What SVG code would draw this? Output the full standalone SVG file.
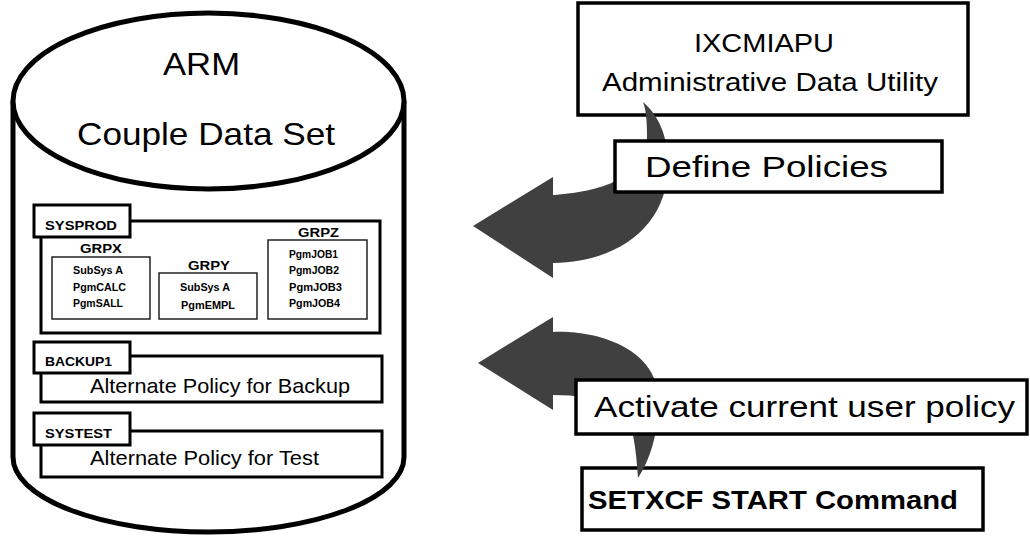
<svg xmlns="http://www.w3.org/2000/svg" width="1030" height="536" viewBox="0 0 1030 536">
<style>
text{font-family:"Liberation Sans",Arial,sans-serif;fill:#000}
.b{font-weight:bold}
.cyl{fill:#fff;stroke:#000;stroke-width:5}
.box{fill:#fff;stroke:#000;stroke-width:3.5}
.pol{fill:#fff;stroke:#000;stroke-width:3}
.grp{fill:#fff;stroke:#222;stroke-width:1.5}
.arr{fill:#404040}
</style>
<rect width="1030" height="536" fill="#fff"/>
<g id="arm-cds">
<path class="cyl" d="M13,101 L13,457 A195.5,75 0 0 0 404,457 L404,101"/>
<ellipse class="cyl" cx="208.5" cy="101" rx="195.5" ry="88"/>
<text x="163" y="75" font-size="32" textLength="77" lengthAdjust="spacingAndGlyphs">ARM</text>
<text x="77" y="145" font-size="32" textLength="258" lengthAdjust="spacingAndGlyphs">Couple Data Set</text>
</g>
<g id="sysprod">
<rect class="pol" x="41" y="221" width="339" height="112"/>
<rect class="pol" x="34" y="205" width="96" height="32"/>
<text class="b" x="45" y="230" font-size="13" textLength="72" lengthAdjust="spacingAndGlyphs">SYSPROD</text>
</g>
<g id="grpx">
<rect class="grp" x="52" y="257" width="98" height="62"/>
<text class="b" x="80" y="253" font-size="13.5" textLength="42" lengthAdjust="spacingAndGlyphs">GRPX</text>
<text class="b" x="73" y="274" font-size="10" textLength="50" lengthAdjust="spacingAndGlyphs">SubSys A</text>
<text class="b" x="73" y="291" font-size="10" textLength="53" lengthAdjust="spacingAndGlyphs">PgmCALC</text>
<text class="b" x="73" y="307" font-size="10" textLength="50" lengthAdjust="spacingAndGlyphs">PgmSALL</text>
</g>
<g id="grpy">
<rect class="grp" x="159" y="273" width="98" height="46"/>
<text class="b" x="188" y="270" font-size="13.5" textLength="42" lengthAdjust="spacingAndGlyphs">GRPY</text>
<text class="b" x="180" y="291" font-size="10" textLength="50" lengthAdjust="spacingAndGlyphs">SubSys A</text>
<text class="b" x="181" y="309" font-size="10" textLength="54" lengthAdjust="spacingAndGlyphs">PgmEMPL</text>
</g>
<g id="grpz">
<rect class="grp" x="268" y="240" width="99" height="79"/>
<text class="b" x="298" y="237" font-size="13.5" textLength="41" lengthAdjust="spacingAndGlyphs">GRPZ</text>
<text class="b" x="289" y="258" font-size="10" textLength="49" lengthAdjust="spacingAndGlyphs">PgmJOB1</text>
<text class="b" x="289" y="274" font-size="10" textLength="50" lengthAdjust="spacingAndGlyphs">PgmJOB2</text>
<text class="b" x="289" y="291" font-size="10" textLength="53" lengthAdjust="spacingAndGlyphs">PgmJOB3</text>
<text class="b" x="289" y="307" font-size="10" textLength="51" lengthAdjust="spacingAndGlyphs">PgmJOB4</text>
</g>
<g id="backup1">
<rect class="pol" x="41" y="356" width="341" height="46"/>
<rect class="pol" x="34" y="342" width="96" height="31"/>
<text class="b" x="45" y="366" font-size="13" textLength="67" lengthAdjust="spacingAndGlyphs">BACKUP1</text>
<text x="90" y="393" font-size="21" textLength="260" lengthAdjust="spacingAndGlyphs">Alternate Policy for Backup</text>
</g>
<g id="systest">
<rect class="pol" x="41" y="431" width="341" height="46"/>
<rect class="pol" x="34" y="413" width="96" height="32"/>
<text class="b" x="45" y="438" font-size="13" textLength="67" lengthAdjust="spacingAndGlyphs">SYSTEST</text>
<text x="90" y="465" font-size="21" textLength="229" lengthAdjust="spacingAndGlyphs">Alternate Policy for Test</text>
</g>
<g id="ixcmiapu">
<rect class="box" x="578" y="3" width="390" height="112"/>
<text x="694" y="52" font-size="26" textLength="140" lengthAdjust="spacingAndGlyphs">IXCMIAPU</text>
<text x="602" y="91" font-size="25" textLength="336" lengthAdjust="spacingAndGlyphs">Administrative Data Utility</text>
</g>
<g id="setxcf">
<rect class="box" x="582" y="468" width="401" height="62"/>
<text class="b" x="588" y="509" font-size="25" textLength="370" lengthAdjust="spacingAndGlyphs">SETXCF START Command</text>
</g>
<g id="connectors">
<path class="arr" d="M643,102 C658,115 668,135 668,165 C668,225 620,262 553,263 L553,278 L473,226 L553,177 L553,195 C600,192 648,178 647,135 C647,120 646,110 643,102 Z"/>
<path class="arr" d="M478,363 L553,317 L553,332 C600,330 655,350 658,395 C660,430 650,460 638,478 C637,465 636,450 633,435 C628,408 600,395 553,395 L553,410 Z"/>
</g>
<g id="define-policies">
<rect class="box" x="615" y="141" width="327" height="51"/>
<text x="645" y="177" font-size="30" textLength="243" lengthAdjust="spacingAndGlyphs">Define Policies</text>
</g>
<g id="activate">
<rect class="box" x="576" y="380" width="451" height="54"/>
<text x="594" y="417" font-size="30" textLength="421" lengthAdjust="spacingAndGlyphs">Activate current user policy</text>
</g>
</svg>
